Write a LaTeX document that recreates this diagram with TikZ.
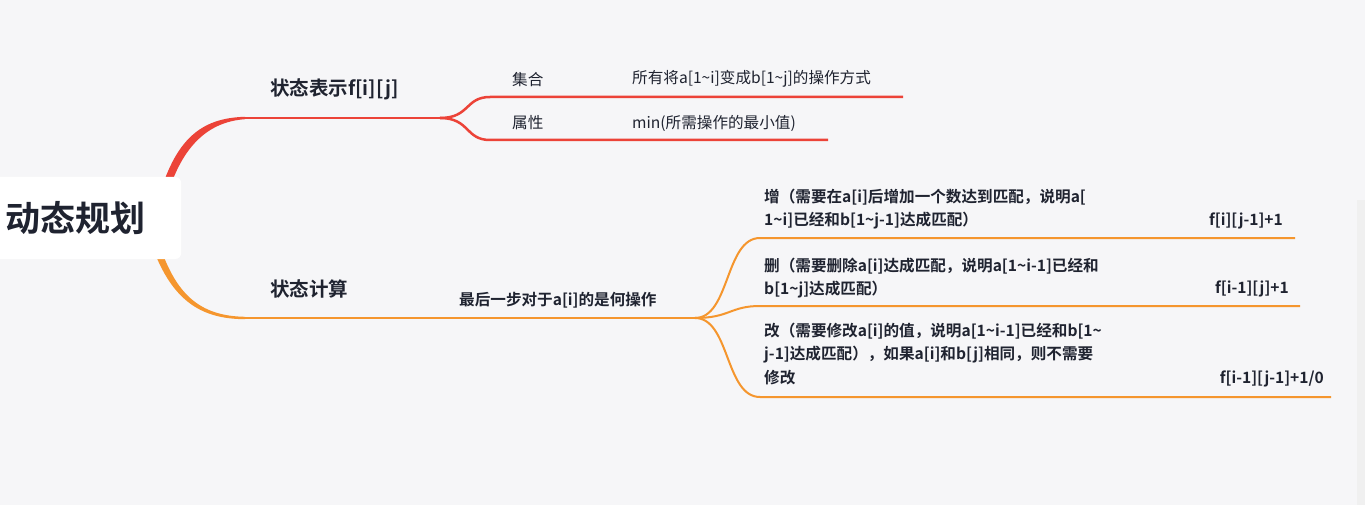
\documentclass[tikz,border=0pt]{standalone}
\usepackage{fontspec}
\setmainfont{Noto Sans CJK SC}
\newfontfamily\cjkb{Noto Sans CJK SC Bold}
\definecolor{bg}{HTML}{F6F6F8}
\definecolor{redb}{HTML}{EC4338}
\definecolor{orab}{HTML}{F5962E}
\definecolor{txt}{HTML}{1F2330}
\tikzset{
 lbl/.style={anchor=west,inner sep=0,text=txt,font=\fontsize{15.6}{23}\selectfont},
 blbl/.style={anchor=west,inner sep=0,text=txt,font=\cjkb\fontsize{15.6}{23.5}\selectfont,align=left},
 rlbl/.style={anchor=east,inner sep=0,text=txt,font=\cjkb\fontsize{15.6}{23}\selectfont},
 big/.style={anchor=west,inner sep=0,text=txt,font=\cjkb\fontsize{19.5}{23}\selectfont},
 rline/.style={draw=redb,line width=2.5pt},
 oline/.style={draw=orab,line width=2pt},
}
\begin{document}
\begin{tikzpicture}[x=1pt,y=-1pt]
\useasboundingbox (0,0) rectangle (1365,505);
\fill[bg] (0,0) rectangle (1365,505);
\fill[gray!12] (1357,200) rectangle (1365,505);
% main branches
\fill[redb] (158,200) .. controls (175,140) and (200,118) .. (245,116.8) -- (245,119.2) .. controls (205,122) and (180,150) .. (166,200) -- cycle;
\fill[orab] (158,240) .. controls (175,295) and (200,316) .. (245,316.8) -- (245,319.2) .. controls (200,319) and (170,300) .. (150,240) -- cycle;
\coordinate (r1) at (245,118);
\coordinate (r2) at (440,118);
\draw[rline] (r1) -- (r2);
\coordinate (s1) at (490,97);
\coordinate (s1e) at (903,97);
\coordinate (s2) at (490,140);
\coordinate (s2e) at (828,140);
\draw[rline] (r2) .. controls (470,118) and (465,97) .. (s1) -- (s1e);
\draw[rline] (r2) .. controls (470,118) and (465,140) .. (s2) -- (s2e);
\coordinate (o1) at (245,318);
\coordinate (o2) at (695,318);
\draw[oline] (o1) -- (o2);
\coordinate (t1) at (760,238);
\coordinate (t1e) at (1295,238);
\coordinate (t2) at (760,306);
\coordinate (t2e) at (1300,306);
\coordinate (t3) at (760,397);
\coordinate (t3e) at (1331,397);
\draw[oline] (o2) .. controls (730,318) and (725,238) .. (t1) -- (t1e);
\draw[oline] (o2) .. controls (730,318) and (730,306) .. (t2) -- (t2e);
\draw[oline] (o2) .. controls (730,318) and (725,397) .. (t3) -- (t3e);
% root
\node[fill=white,rounded corners=6pt,minimum width=195pt,minimum height=82pt,anchor=west,inner sep=0] (root) at (-14,218) {};
\node[big,font=\cjkb\fontsize{35}{38}\selectfont] (roott) at (5,218) {动态规划};
% labels
\node[big] (a) at (270,89) {状态表示f[i][j]};
\node[big] (b) at (270,289) {状态计算};
\node[lbl] (c1) at (512,80) {集合};
\node[lbl] (c2) at (632,79) {所有将a[1\textasciitilde i]变成b[1\textasciitilde j]的操作方式};
\node[lbl] (d1) at (512,123) {属性};
\node[lbl] (d2) at (632,123) {min(所需操作的最小值)};
\node[blbl] (e) at (459,300) {最后一步对于a[i]的是何操作};
\node[blbl] (g1) at (764,209) {增（需要在a[i]后增加一个数达到匹配，说明a[\\1\textasciitilde i]已经和b[1\textasciitilde j-1]达成匹配）};
\node[rlbl] (h1) at (1283,221) {f[i][j-1]+1};
\node[blbl] (g2) at (764,278) {删（需要删除a[i]达成匹配，说明a[1\textasciitilde i-1]已经和\\b[1\textasciitilde j]达成匹配）};
\node[rlbl] (h2) at (1289,289) {f[i-1][j]+1};
\node[blbl] (g3) at (764,354) {改（需要修改a[i]的值，说明a[1\textasciitilde i-1]已经和b[1\textasciitilde\\j-1]达成匹配），如果a[i]和b[j]相同，则不需要\\修改};
\node[rlbl] (h3) at (1324,379) {f[i-1][j-1]+1/0};
\end{tikzpicture}
\end{document}
